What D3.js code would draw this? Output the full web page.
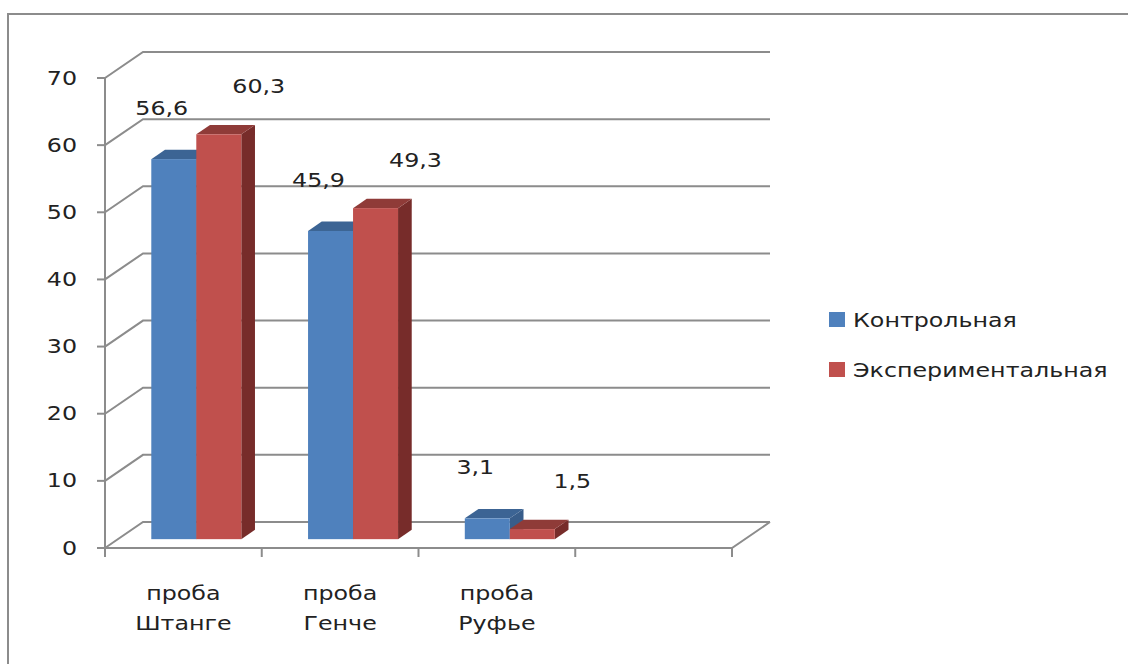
<!DOCTYPE html>
<html>
<head>
<meta charset="utf-8">
<script src="https://cdn.jsdelivr.net/npm/d3@7"></script>
<style>
  body { margin: 0; background: #fff; }
  svg { display: block; }
  text { font-family: "DejaVu Sans", sans-serif; font-size: 19px; fill: #222; }
</style>
</head>
<body>
<div id="chart"></div>
<script>
const categories = [["проба", "Штанге"], ["проба", "Генче"], ["проба", "Руфье"]];
const seriesNames = ["Контрольная", "Экспериментальная"];
const control = [56.6, 45.9, 3.1];
const experimental = [60.3, 49.3, 1.5];
const yTicks = [0, 10, 20, 30, 40, 50, 60, 70];

const width = 1128, height = 664;
const sx = 1.25; // text is drawn wider than tall in the original

const svg = d3.select("#chart").append("svg")
    .attr("width", width)
    .attr("height", height);

// outer frame
svg.append("rect")
    .attr("x", 8).attr("y", 14)
    .attr("width", 1140).attr("height", 680)
    .attr("fill", "none").attr("stroke", "#8c8c8c").attr("stroke-width", 2);

// front plane scales, depth vector goes to the back wall
const x = d3.scaleBand()
    .domain(d3.range(categories.length + 1)) // one empty slot on the right
    .range([105, 732]);
const y = d3.scaleLinear().domain([0, 70]).range([548, 78]);
const depth = [38, -26];
const zFront = 0.34, zBack = 0.70;

const grid = svg.append("g").attr("stroke", "#8c8c8c").attr("stroke-width", 2).attr("fill", "none");

// walls: diagonal + back horizontal lines at every tick
yTicks.forEach(t => {
    const yy = y(t);
    grid.append("path")
        .attr("d", `M${x.range()[0]},${yy} L${x.range()[0] + depth[0]},${yy + depth[1]} L${x.range()[1] + depth[0]},${yy + depth[1]}`);
});
// floor front edge and right diagonal
grid.append("path")
    .attr("d", `M${x.range()[0]},${y(0)} L${x.range()[1]},${y(0)} L${x.range()[1] + depth[0]},${y(0) + depth[1]}`);
// vertical axis
grid.append("line")
    .attr("x1", x.range()[0]).attr("x2", x.range()[0])
    .attr("y1", y(70)).attr("y2", y(0));
// y ticks
yTicks.forEach(t => {
    grid.append("line")
        .attr("x1", x.range()[0] - 8).attr("x2", x.range()[0])
        .attr("y1", y(t)).attr("y2", y(t));
});
// category ticks
d3.range(categories.length + 2).forEach(i => {
    const xx = x.range()[0] + i * x.bandwidth();
    grid.append("line")
        .attr("x1", xx).attr("x2", xx)
        .attr("y1", y(0)).attr("y2", y(0) + 9);
});

function stretchedText(parent, px, py, str, anchor) {
    parent.append("g")
        .attr("transform", `translate(${px},${py}) scale(${sx},1)`)
        .append("text")
        .attr("text-anchor", anchor || "middle")
        .attr("dominant-baseline", "central")
        .text(str);
}

// y tick labels
const yLab = svg.append("g");
yTicks.forEach(t => stretchedText(yLab, 77, y(t), t, "end"));

// bars
const barW = 45;
const colors = [
    { front: "#4f81bd", top: "#3c6494", side: "#385d8a" },
    { front: "#c0504d", top: "#8f3b38", side: "#772c2a" }
];
const series = [control, experimental];
const labelDx = [-12, 40];
const labelDy = [-51, -48];

const fdx = depth[0] * zFront, fdy = depth[1] * zFront;
const bdx = depth[0] * (zBack - zFront), bdy = depth[1] * (zBack - zFront);

const bars = svg.append("g");
const labels = svg.append("g");

categories.forEach((c, i) => {
    const groupX = x(i) + (x.bandwidth() - 2 * barW) / 2;
    series.forEach((vals, s) => {
        const v = vals[i];
        const x0 = groupX + s * barW + fdx, x1 = x0 + barW;
        const yb = y(0) + fdy, yt = y(v) + fdy;
        const col = colors[s];
        bars.append("polygon")
            .attr("points", [[x1, yt], [x1 + bdx, yt + bdy], [x1 + bdx, yb + bdy], [x1, yb]].join(" "))
            .attr("fill", col.side);
        bars.append("polygon")
            .attr("points", [[x0, yt], [x1, yt], [x1 + bdx, yt + bdy], [x0 + bdx, yt + bdy]].join(" "))
            .attr("fill", col.top);
        bars.append("rect")
            .attr("x", x0).attr("y", yt)
            .attr("width", barW).attr("height", yb - yt)
            .attr("fill", col.front);
        stretchedText(labels, (x0 + x1) / 2 + labelDx[s], yt + labelDy[s], String(v).replace(".", ","));
    });
});

// category labels
const catLab = svg.append("g");
categories.forEach((c, i) => {
    const cx = x(i) + x.bandwidth() / 2;
    c.forEach((line, j) => stretchedText(catLab, cx, 593 + j * 30, line));
});

// legend
const legend = svg.append("g");
seriesNames.forEach((name, s) => {
    const ly = 320 + s * 50;
    legend.append("rect")
        .attr("x", 829).attr("y", ly - 8)
        .attr("width", 16).attr("height", 15)
        .attr("fill", colors[s].front);
    stretchedText(legend, 853, ly, name, "start");
});
</script>
</body>
</html>
